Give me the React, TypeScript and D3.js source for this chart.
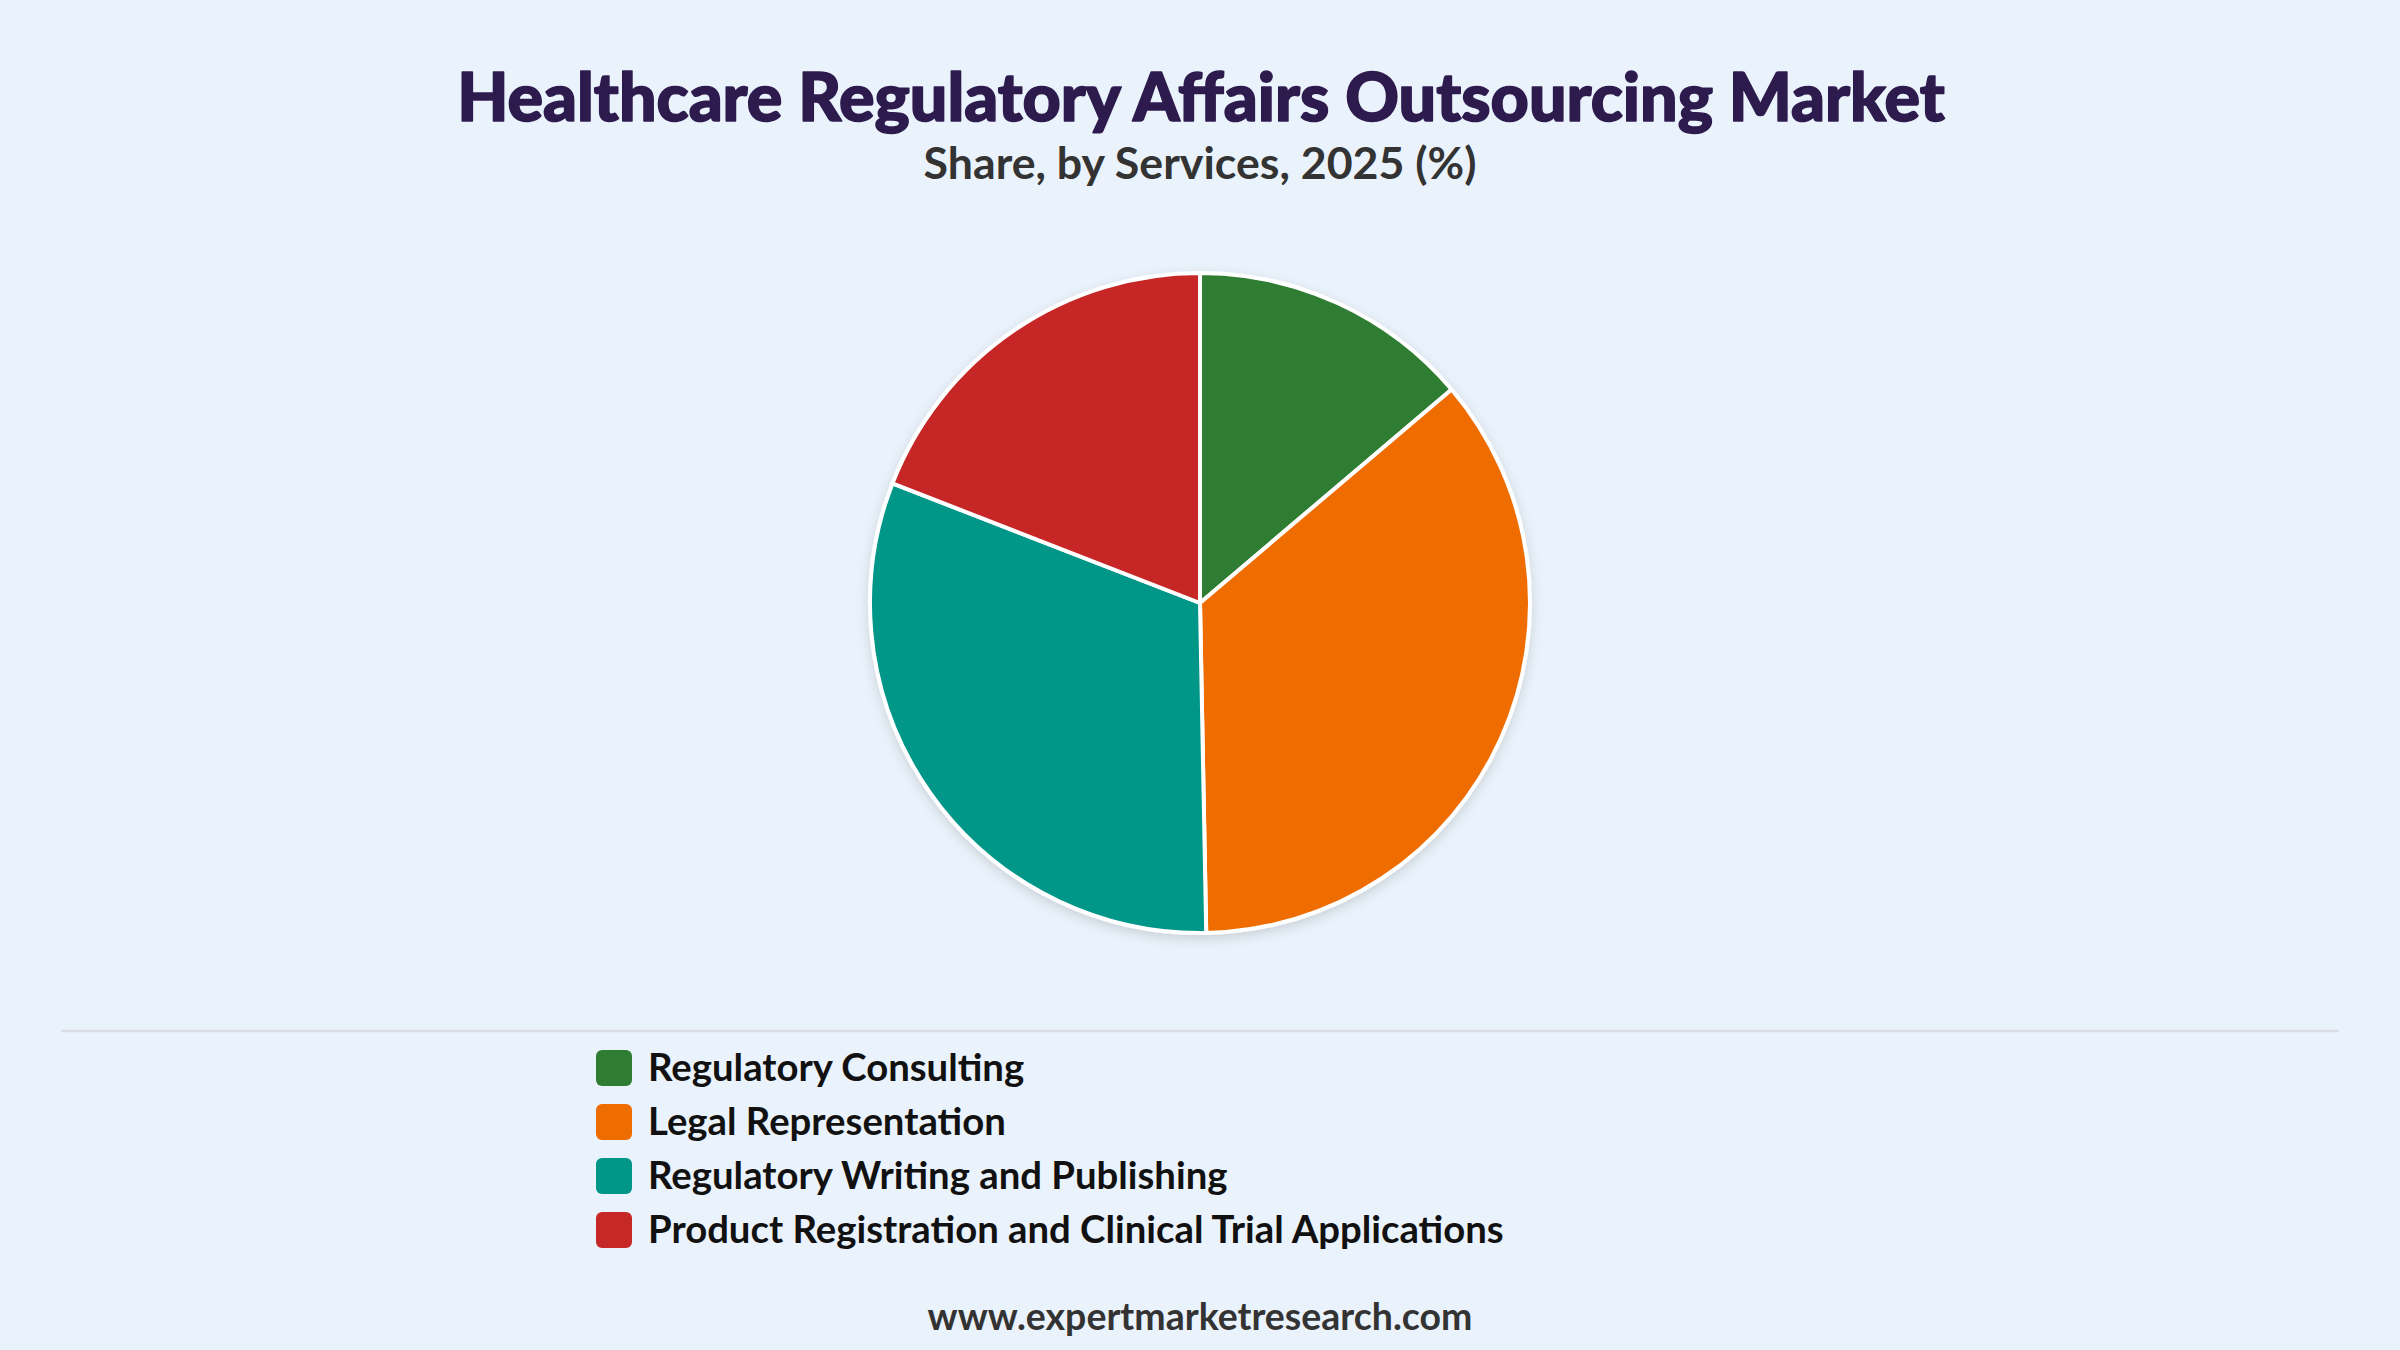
import { useEffect, useRef } from 'react';
import * as d3 from 'd3';

// chart data
const services = [
    'Regulatory Consulting',
    'Legal Representation',
    'Regulatory Writing and Publishing',
    'Product Registration and Clinical Trial Applications',
];
const shares = [13.8, 35.9, 31.2, 19.1];

const palette = ['#2e7d32', '#ef6c00', '#009688', '#c62828'];

const W = 2400;
const H = 1350;
const FONT = 'Lato, "Open Sans", "Noto Sans", sans-serif';

export default function App() {
    const svgRef = useRef<SVGSVGElement>(null);

    useEffect(() => {
        if (!svgRef.current) return;
        const svg = d3.select(svgRef.current);
        svg.selectAll('*').remove();

        // shrink / grow a text so it spans the wanted width
        const fit = (sel: d3.Selection<SVGTextElement, unknown, null, undefined>, target: number, base: number) => {
            sel.attr('font-size', base);
            const w = (sel.node() as SVGTextElement).getComputedTextLength();
            sel.attr('font-size', (base * target) / w);
        };

        const defs = svg.append('defs');
        defs.append('filter')
            .attr('id', 'pieShadow')
            .attr('x', '-20%').attr('y', '-20%')
            .attr('width', '140%').attr('height', '140%')
            .append('feDropShadow')
            .attr('dx', 0).attr('dy', 4)
            .attr('stdDeviation', 6)
            .attr('flood-color', '#000')
            .attr('flood-opacity', 0.14);

        svg.append('rect').attr('width', W).attr('height', H).attr('fill', '#eaf2fb');

        // titles
        const title = svg.append('text')
            .attr('x', 1201).attr('y', 121)
            .attr('text-anchor', 'middle')
            .attr('font-family', FONT)
            .attr('font-weight', 900)
            .attr('fill', '#2d1b4e')
            .attr('stroke', '#2d1b4e')
            .attr('stroke-width', 1.6)
            .attr('stroke-linejoin', 'round')
            .text('Healthcare Regulatory Affairs Outsourcing Market');
        fit(title, 1488, 62);

        const subtitle = svg.append('text')
            .attr('x', 1200).attr('y', 179)
            .attr('text-anchor', 'middle')
            .attr('font-family', FONT)
            .attr('font-weight', 700)
            .attr('fill', '#333333')
            .text('Share, by Services, 2025 (%)');
        fit(subtitle, 553, 38);

        // pie
        const pie = d3.pie<number>().sort(null).value(d => d);
        const arc = d3.arc<d3.PieArcDatum<number>>().innerRadius(0).outerRadius(330);

        const g = svg.append('g')
            .attr('transform', 'translate(1200,603)')
            .attr('filter', 'url(#pieShadow)');

        g.selectAll('path')
            .data(pie(shares))
            .join('path')
            .attr('d', arc)
            .attr('fill', (d, i) => palette[i])
            .attr('stroke', '#ffffff')
            .attr('stroke-width', 4)
            .attr('stroke-linejoin', 'round');

        // divider
        svg.append('line')
            .attr('x1', 61).attr('x2', 2339)
            .attr('y1', 1031).attr('y2', 1031)
            .attr('stroke', '#d9dde3')
            .attr('stroke-width', 2.5);

        // legend
        const legend = svg.append('g').attr('transform', 'translate(596,1050)');
        const rows = legend.selectAll('g')
            .data(services)
            .join('g')
            .attr('transform', (d, i) => `translate(0,${i * 54})`);

        rows.append('rect')
            .attr('width', 36).attr('height', 36)
            .attr('rx', 6)
            .attr('fill', (d, i) => palette[i]);

        const labels = rows.append('text')
            .attr('x', 52).attr('y', 30.5)
            .attr('font-family', FONT)
            .attr('font-weight', 700)
            .attr('fill', '#111111')
            .text(d => d);

        // one common size, from the longest label
        const longest = labels.filter((d, i) => i === 3);
        fit(longest as any, 856, 36);
        labels.attr('font-size', longest.attr('font-size'));

        // footer
        const footer = svg.append('text')
            .attr('x', 1200).attr('y', 1330)
            .attr('text-anchor', 'middle')
            .attr('font-family', FONT)
            .attr('font-weight', 700)
            .attr('fill', '#333333')
            .text('www.expertmarketresearch.com');
        fit(footer, 545, 34);
    }, []);

    return (
        <svg
            ref={svgRef}
            width={W}
            height={H}
            style={{ position: 'absolute', left: 0, top: 0, display: 'block' }}
        />
    );
}
